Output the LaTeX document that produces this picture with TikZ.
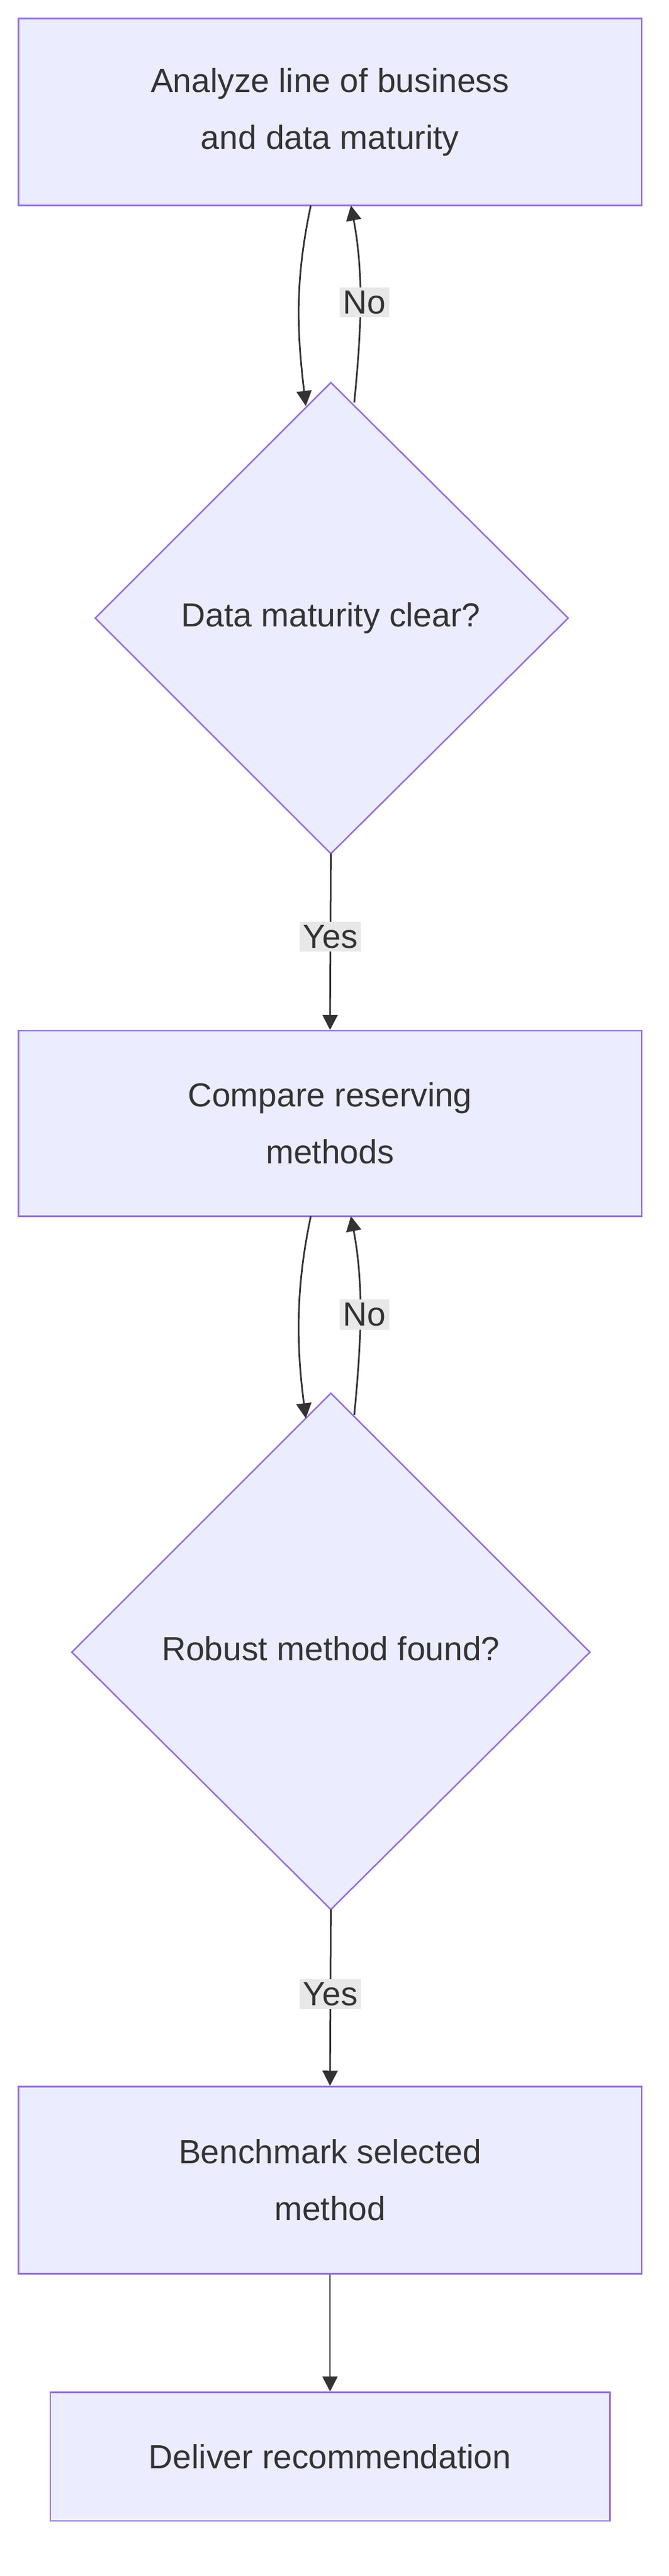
\documentclass[tikz,border=0pt]{standalone}
\usepackage{fontspec}
\setmainfont{Liberation Sans}
\usetikzlibrary{shapes.geometric,arrows.meta}
\definecolor{fillc}{HTML}{ECECFF}
\definecolor{strokec}{HTML}{9370DB}
\definecolor{txt}{HTML}{333333}
\definecolor{lbl}{HTML}{E8E8E8}
\tikzset{
 box/.style={draw=strokec,fill=fillc,line width=0.9pt,text=txt,align=center,font=\fontsize{20}{34}\selectfont,inner sep=0pt},
 lab/.style={fill=lbl,text=txt,font=\fontsize{20}{24}\selectfont,inner sep=2pt},
 arr/.style={draw=txt,line width=1pt,-{Triangle[length=9pt,width=9pt]}}
}
\begin{document}
\begin{tikzpicture}[x=1pt,y=-1pt]
\useasboundingbox[fill=white] (0,0) rectangle (400,1542);
\node[box,minimum width=373pt,minimum height=112pt] (b1) at (197.5,67) {Analyze line of business\\and data maturity};
\draw[draw=strokec,fill=fillc,line width=0.9pt] (198,229) -- (340,370) -- (198,511) -- (57,370) -- cycle;
\node[text=txt,font=\fontsize{20}{24}\selectfont] (d1) at (198,370) {Data maturity clear?};
\coordinate (d1t) at (198,229); \coordinate (d1b) at (198,511);
\node[box,minimum width=373pt,minimum height=111pt] (b2) at (197.5,672.5) {Compare reserving\\methods};
\draw[draw=strokec,fill=fillc,line width=0.9pt] (198,834) -- (353,989) -- (198,1143) -- (43,989) -- cycle;
\node[text=txt,font=\fontsize{20}{24}\selectfont] (d2) at (198,987) {Robust method found?};
\coordinate (d2t) at (198,834); \coordinate (d2b) at (198,1143);
\node[box,minimum width=373pt,minimum height=112pt] (b3) at (197.5,1305) {Benchmark selected\\method};
\node[box,minimum width=335pt,minimum height=77pt] (b4) at (197.5,1470.5) {Deliver recommendation};
% loop 1
\coordinate (p1) at (186,123); \coordinate (q1) at (183,243);
\draw[arr] (p1) .. controls (176,170) and (178,200) .. (q1);
\coordinate (p2) at (212,241); \coordinate (q2) at (210,123);
\draw[arr] (p2) .. controls (216,200) and (218,165) .. (q2);
\node[lab] (n1) at (218,181) {No};
\draw[arr] (d1b) -- node[lab,pos=0.47] (y1) {Yes} (b2.north);
% loop 2
\coordinate (p3) at (186,728); \coordinate (q3) at (183,849);
\draw[arr] (p3) .. controls (176,775) and (178,810) .. (q3);
\coordinate (p4) at (212,847); \coordinate (q4) at (210,728);
\draw[arr] (p4) .. controls (216,805) and (218,770) .. (q4);
\node[lab] (n2) at (218,787) {No};
\draw[arr] (d2b) -- node[lab,pos=0.48] (y2) {Yes} (b3.north);
\draw[arr] (b3.south) -- (b4.north);
\end{tikzpicture}
\end{document}
